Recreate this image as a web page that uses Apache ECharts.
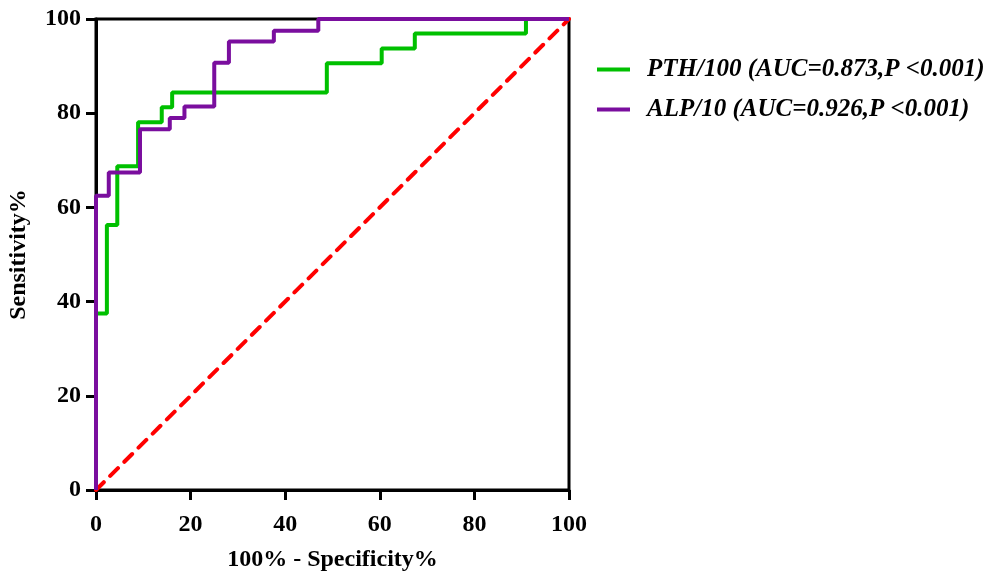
<!DOCTYPE html>
<html>
<head>
<meta charset="utf-8">
<script src="https://cdn.jsdelivr.net/npm/echarts@6/dist/echarts.min.js"></script>
<style>
  html, body { margin: 0; padding: 0; background: #fff; }
  #chart { width: 987px; height: 577px; }
</style>
</head>
<body>
<div id="chart"></div>
<script>
// ROC 数据 (100% - 特异度, 灵敏度)，阶梯点
const pthX = [0, 0, 2.3, 4.5, 8.9, 13.9, 16.1, 48.8, 60.4, 67.4, 90.9, 100]
const pthY = [0, 37.5, 56.25, 68.75, 78.1, 81.25, 84.4, 90.6, 93.75, 96.9, 100, 100]
const alpX = [0, 0, 2.7, 9.3, 15.6, 18.7, 25.0, 28.1, 37.6, 47.0, 100]
const alpY = [0, 62.5, 67.4, 76.6, 79.0, 81.4, 90.7, 95.2, 97.5, 100, 100]
const refX = [0, 100]
const refY = [0, 100]
const seriesNames = ['PTH/100 (AUC=0.873,P <0.001)', 'ALP/10 (AUC=0.926,P <0.001)']

const zip = (xs, ys) => xs.map((x, i) => [x, ys[i]])

const font = 'Liberation Serif, Times New Roman, serif'
const chart = echarts.init(document.getElementById('chart'))

chart.setOption({
  animation: false,
  backgroundColor: '#fff',
  grid: { left: 96, top: 19, width: 473, height: 474, show: true, borderColor: '#000', borderWidth: 3 },
  legend: {
    left: 592, top: 52, orient: 'vertical', itemGap: 15,
    itemWidth: 33, itemHeight: 4,
    icon: 'rect',
    data: seriesNames,
    textStyle: { fontFamily: font, fontSize: 25, fontWeight: 'bold', fontStyle: 'italic', color: '#000', padding: [0, 0, 0, 12] }
  },
  xAxis: {
    type: 'value', min: 0, max: 100, interval: 20,
    name: '100% - Specificity%', nameLocation: 'middle', nameGap: 58,
    nameTextStyle: { fontFamily: font, fontSize: 24, fontWeight: 'bold', color: '#000' },
    axisLine: { lineStyle: { color: '#000', width: 3 } },
    axisTick: { show: true, inside: false, length: 10, lineStyle: { color: '#000', width: 3 } },
    axisLabel: { fontFamily: font, fontSize: 24, fontWeight: 'bold', color: '#000', margin: 23 },
    splitLine: { show: false }
  },
  yAxis: {
    type: 'value', min: 0, max: 100, interval: 20,
    name: 'Sensitivity%', nameLocation: 'middle', nameGap: 65,
    nameTextStyle: { fontFamily: font, fontSize: 24, fontWeight: 'bold', color: '#000' },
    axisLine: { show: true, lineStyle: { color: '#000', width: 3 } },
    axisTick: { show: true, inside: false, length: 10, lineStyle: { color: '#000', width: 3 } },
    axisLabel: { fontFamily: font, fontSize: 24, fontWeight: 'bold', color: '#000', margin: 15 },
    splitLine: { show: false }
  },
  series: [
    {
      name: 'ref', type: 'line', data: zip(refX, refY), symbol: 'none', silent: true,
      lineStyle: { color: '#ff0000', width: 4, type: [11, 9], cap: 'round' }, z: 1
    },
    {
      name: seriesNames[0], type: 'line', step: 'end', data: zip(pthX, pthY), symbol: 'none',
      color: '#00c000', lineStyle: { color: '#00c000', width: 4 }, z: 2
    },
    {
      name: seriesNames[1], type: 'line', step: 'end', data: zip(alpX, alpY), symbol: 'none',
      color: '#7a0e9e', lineStyle: { color: '#7a0e9e', width: 4 }, z: 3
    }
  ]
})
</script>
</body>
</html>
